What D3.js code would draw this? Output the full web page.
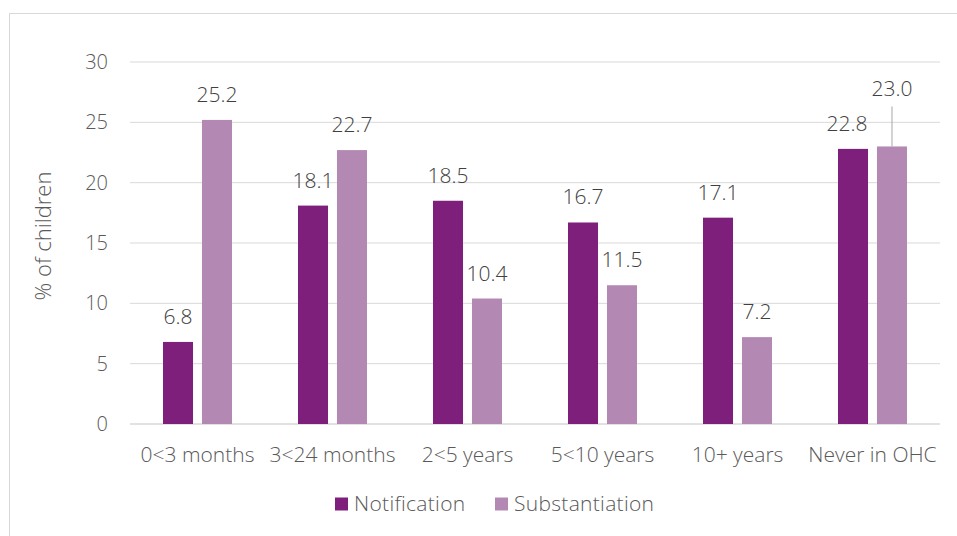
<!DOCTYPE html>
<html><head><meta charset="utf-8">
<script src="https://cdn.jsdelivr.net/npm/d3@7"></script>
<style>body{margin:0;background:#fff}svg{display:block}text{font-family:"Open Sans",sans-serif;font-weight:300;fill:#595959}</style>
</head><body><svg id="c" width="957" height="536"></svg>
<script>
const categories = ["0<3 months","3<24 months","2<5 years","5<10 years","10+ years","Never in OHC"];
const seriesNames = ["Notification","Substantiation"];
const notification = [6.8,18.1,18.5,16.7,17.1,22.8];
const substantiation = [25.2,22.7,10.4,11.5,7.2,23.0];
const yTicks = [0,5,10,15,20,25,30];
const colors = ["#7F1F7C","#B389B3"];

const svg = d3.select("#c");
svg.append("rect").attr("x",9.5).attr("y",13.5).attr("width",960).attr("height",540)
  .attr("fill","#fff").attr("stroke","#d9d9d9");

const x = d3.scaleBand().domain(categories).range([130,940]);
const y = d3.scaleLinear().domain([0,30]).range([424,62]);
const inner = d3.scaleBand().domain(seriesNames).range([-34.5,34.5]).paddingInner(0.23);

// gridlines
svg.append("g").selectAll("line").data(yTicks).join("line")
  .attr("x1",130).attr("x2",940).attr("y1",d=>y(d)).attr("y2",d=>y(d))
  .attr("stroke","#d9d9d9").attr("stroke-width",d=>d===0?1.5:1);

// y axis labels
const ya = svg.append("g").attr("transform","translate(108,0)")
  .call(d3.axisLeft(y).tickValues(yTicks).tickSize(0).tickPadding(0));
ya.select(".domain").remove();
ya.selectAll("text").style("font-family","'Open Sans',sans-serif").style("font-weight",300)
  .style("font-size","20px").attr("fill","#595959");

// x axis labels
const xa = svg.append("g").attr("transform","translate(0,447)")
  .call(d3.axisBottom(x).tickSize(0).tickPadding(0));
xa.select(".domain").remove();
xa.selectAll("text").style("font-family","'Open Sans',sans-serif").style("font-weight",300)
  .style("font-size","21px").attr("fill","#595959").attr("dy","0.71em");

// axis title
svg.append("text").attr("transform","translate(51,236) rotate(-90)").attr("text-anchor","middle")
  .style("font-size","22px").text("% of children");

const data = categories.map((c,i)=>({c, vals:[notification[i],substantiation[i]]}));
const groups = svg.append("g").selectAll("g").data(data).join("g")
  .attr("transform",d=>`translate(${x(d.c)+x.bandwidth()/2},0)`);
groups.selectAll("rect").data(d=>d.vals.map((v,j)=>({v,j,c:d.c}))).join("rect")
  .attr("x",d=>inner(seriesNames[d.j])).attr("width",inner.bandwidth())
  .attr("y",d=>y(d.v)).attr("height",d=>y(0)-y(d.v)).attr("fill",d=>colors[d.j]);

// labels
groups.selectAll("text.lbl").data(d=>d.vals.map((v,j)=>({v,j,c:d.c}))).join("text")
  .attr("class","lbl").attr("text-anchor","middle").style("font-size","21px").style("fill","#404040")
  .attr("x",d=>{
    let cx = inner(seriesNames[d.j])+inner.bandwidth()/2;
    if(d.c==="Never in OHC" && d.j===0) cx -= 6;
    return cx;})
  .attr("y",d=>{
    if(d.c==="Never in OHC" && d.j===1) return y(d.v)-50;
    return y(d.v)-18;})
  .text(d=>d.v.toFixed(1));

// leader line for 23.0
const lastX = x("Never in OHC")+x.bandwidth()/2 + inner("Substantiation")+inner.bandwidth()/2;
svg.append("line").attr("x1",lastX).attr("x2",lastX)
  .attr("y1",y(substantiation[5])-40).attr("y2",y(substantiation[5]))
  .attr("stroke","#a6a6a6").attr("stroke-width",1);

// legend
const leg = svg.append("g").attr("transform","translate(335,0)");
const legItems = [{n:seriesNames[0],c:colors[0],x:0},{n:seriesNames[1],c:colors[1],x:160}];
leg.selectAll("rect").data(legItems).join("rect").attr("x",d=>d.x).attr("y",497.5)
  .attr("width",13).attr("height",13).attr("fill",d=>d.c);
leg.selectAll("text").data(legItems).join("text").attr("x",d=>d.x+19).attr("y",511)
  .style("font-size","21px").style("letter-spacing","0.3px").text(d=>d.n);
</script></body></html>
